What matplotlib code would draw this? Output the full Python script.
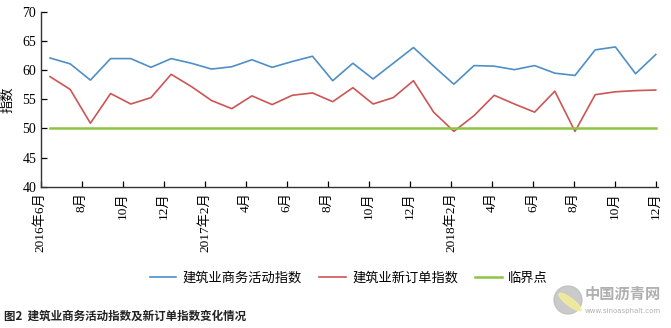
import numpy as np
import matplotlib
matplotlib.use("Agg")
import matplotlib.pyplot as plt
from matplotlib.patches import Ellipse

plt.rcParams['font.family'] = ['Liberation Serif', 'Noto Sans CJK SC']

# -----------------------------
# 数据 (2016年6月 - 2018年12月)
# -----------------------------
activity = [62.1, 61.1, 58.3, 62.0, 62.0, 60.5, 62.0, 61.2, 60.2, 60.6,
            61.8, 60.5, 61.5, 62.4, 58.2, 61.2, 58.5, 61.2, 63.9, 60.7,
            57.6, 60.8, 60.7, 60.1, 60.8, 59.5, 59.1, 63.5, 64.0, 59.4, 62.7]
new_orders = [58.9, 56.7, 50.9, 56.0, 54.2, 55.3, 59.3, 57.2, 54.8, 53.4,
              55.6, 54.1, 55.7, 56.1, 54.6, 57.0, 54.2, 55.3, 58.2, 52.8,
              49.5, 52.2, 55.7, 54.2, 52.8, 56.4, 49.5, 55.8, 56.3, 56.5, 56.6]
threshold = [50] * len(activity)

tick_labels = ['2016年6月', '8月', '10月', '12月', '2017年2月', '4月', '6月', '8月',
               '10月', '12月', '2018年2月', '4月', '6月', '8月', '10月', '12月']
y_ticks = [40, 45, 50, 55, 60, 65, 70]

blue = '#4e8fc8'
red = '#cd5555'
green = '#8dc442'

x = np.arange(len(activity))

fig = plt.figure(figsize=(6.71, 3.28), dpi=100)
ax = fig.add_axes([0.0604, 0.4308, 0.9202, 0.5326])

ax.plot(x, activity, color=blue, lw=1.2, label='建筑业商务活动指数')
ax.plot(x, new_orders, color=red, lw=1.2, label='建筑业新订单指数')
ax.plot(x, threshold, color=green, lw=1.8, label='临界点')

x0, x1 = -0.47, 30.11
ax.set_xlim(x0, x1)
ax.set_ylim(40, 70)
ax.set_yticks(y_ticks)
ax.set_xticks(np.linspace(x0, 30.01, len(tick_labels)))
ax.set_xticklabels(tick_labels, rotation=90, ha='center', va='top', fontsize=9.5)
ax.tick_params(axis='y', labelsize=10, direction='in', length=4, width=0.9, pad=3)
ax.tick_params(axis='x', direction='in', length=4, width=0.9, pad=4)

for s in ['top', 'right']:
    ax.spines[s].set_visible(False)
for s in ['left', 'bottom']:
    ax.spines[s].set_color('#333333')
    ax.spines[s].set_linewidth(1.0)

ax.set_ylabel('指数', fontsize=9.5)
ax.yaxis.set_label_coords(-0.042, 0.5)

fig.legend(loc='center', bbox_to_anchor=(0.52, 0.152), ncol=3, frameon=False,
           handlelength=2.0, handletextpad=0.5, columnspacing=1.3,
           prop={'family': ['Noto Sans CJK SC'], 'size': 9.5})

fig.text(0.006, 1 - 316 / 328, '图2  建筑业商务活动指数及新订单指数变化情况',
         family=['Noto Sans CJK SC'], fontsize=8.3, fontweight='bold',
         va='center', ha='left', color='#222222')

# 水印
fig.patches.append(Ellipse((568 / 671, 1 - 300 / 328), 28 / 671, 28 / 328,
                           transform=fig.transFigure, color='#bdbdbd', alpha=0.8))
fig.patches.append(Ellipse((570 / 671, 1 - 302 / 328), 10 / 671, 20 / 328, angle=30,
                           transform=fig.transFigure, color='#f3ec9a', alpha=0.9))
fig.text(585 / 671, 1 - 294 / 328, '中国沥青网', family=['Noto Sans CJK SC'],
         fontsize=11, fontweight='bold', color='#b0b0b0', va='center', ha='left')
fig.text(585 / 671, 1 - 311 / 328, 'www.sinoasphalt.com', family=['DejaVu Sans'],
         fontsize=5, color='#b0b0b0', va='center', ha='left')

fig.savefig('out.png', dpi=100)
